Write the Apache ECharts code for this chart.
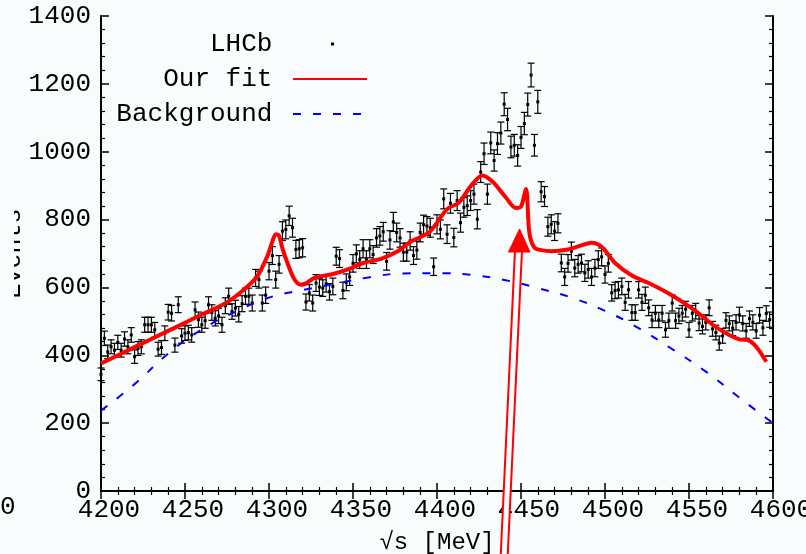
<!DOCTYPE html>
<html>
<head>
<meta charset="utf-8">
<script src="https://cdn.jsdelivr.net/npm/echarts@6/dist/echarts.min.js"></script>
<style>
  html, body { margin: 0; padding: 0; background: #f8fcfd; }
  #main { width: 806px; height: 554px; }
</style>
</head>
<body>
<div id="main"></div>
<script>
// histogram: 2 MeV bins starting at 4200 MeV
var binStart = 4200;
var binWidth = 2;
var counts = [
  344, 450, 410, 425, 415, 438, 415, 448, 425, 460,
  396, 420, 425, 490, 490, 490, 475, 418, 423, 465,
  527, 524, 430, 549, 457, 465, 467, 460, 534, 505,
  490, 502, 549, 526, 509, 516, 490, 546, 574, 529,
  539, 521, 552, 574, 574, 554, 628, 623, 554, 577,
  648, 694, 623, 668, 766, 771, 811, 776, 712, 714,
  717, 557, 584, 554, 613, 601, 598, 611, 587, 603,
  692, 685, 591, 615, 631, 671, 699, 682, 714, 682,
  714, 697, 746, 752, 764, 677, 740, 793, 762, 746,
  704, 704, 737, 694, 710, 762, 785, 781, 776, 661,
  786, 771, 861, 757, 848, 747, 856, 791, 836, 841,
  856, 875, 801, 940, 994, 875, 1026, 974, 1024, 1055,
  1140, 1095, 1014, 1019, 989, 1042, 1083, 1139, 1226, 1019,
  1147, 882, 868, 779, 786, 766, 789, 672, 631, 671,
  707, 657, 668, 672, 643, 653, 631, 657, 682, 690,
  638, 671, 584, 591, 593, 603, 556, 593, 526, 526,
  593, 556, 577, 540, 504, 524, 504, 524, 475, 502,
  554, 502, 516, 524, 536, 475, 524, 530, 495, 485,
  497, 540, 478, 467, 436, 457, 503, 494, 480, 497,
  519, 494, 472, 508, 497, 472, 518, 481, 523, 505
];

var fitMass = [4200, 4220, 4240, 4260, 4275, 4285, 4293, 4299, 4302, 4304,
  4306, 4308, 4311, 4315, 4319, 4322, 4327, 4337, 4347, 4356,
  4367, 4376, 4385, 4390, 4396, 4406, 4413, 4420, 4427, 4433,
  4441, 4447, 4450, 4453, 4455, 4458, 4462, 4468, 4478, 4486,
  4492, 4498, 4506, 4516, 4526, 4539, 4553, 4567, 4580, 4585,
  4590, 4596];
var fitValue = [376, 424, 472, 520, 556, 593, 633, 692, 735, 757,
  752, 715, 672, 625, 608, 612, 628, 638, 653, 672,
  685, 705, 737, 748, 765, 831, 850, 898, 930, 912,
  865, 834, 838, 890, 760, 717, 710, 707, 712, 724,
  732, 720, 672, 635, 613, 579, 534, 480, 447, 445,
  425, 381];

var bgMass = [4200, 4220, 4240, 4260, 4280, 4300, 4320, 4340, 4360, 4380, 4400,
  4420, 4440, 4460, 4480, 4500, 4520, 4540, 4560, 4580, 4600];
var bgValue = [237, 315, 405, 476, 528, 570, 592, 611, 630, 641, 642,
  637, 622, 598, 570, 531, 480, 418, 352, 275, 200];

var xTicks = { min: 4200, max: 4600, step: 50 };
var yTicks = { min: 0, max: 1400, step: 200 };

var monoFont = 'Liberation Mono';
var pageBg = '#f8fcfd';

var pointData = [];
for (var i = 0; i < counts.length; i++) {
  pointData.push([binStart + binWidth * i, counts[i], Math.sqrt(counts[i])]);
}
var fitData = fitMass.map(function (m, k) { return [m, fitValue[k]]; });
var bgData = bgMass.map(function (m, k) { return [m, bgValue[k]]; });

function renderErrorBar(params, api) {
  var x = api.value(0), y = api.value(1), e = api.value(2);
  var top = api.coord([x, y + e]);
  var bot = api.coord([x, y - e]);
  var mid = api.coord([x, y]);
  var cap = 3.5;
  var st = { stroke: '#000', lineWidth: 1.2 };
  return {
    type: 'group',
    children: [
      { type: 'line', shape: { x1: top[0], y1: top[1], x2: bot[0], y2: bot[1] }, style: st },
      { type: 'line', shape: { x1: top[0] - cap, y1: top[1], x2: top[0] + cap, y2: top[1] }, style: st },
      { type: 'line', shape: { x1: bot[0] - cap, y1: bot[1], x2: bot[0] + cap, y2: bot[1] }, style: st },
      { type: 'rect', shape: { x: mid[0] - 1.5, y: mid[1] - 1.5, width: 3, height: 3 }, style: { fill: '#000' } }
    ]
  };
}

var myChart = echarts.init(document.getElementById('main'));

var tickStyle = { show: true, inside: true, length: 8, lineStyle: { color: '#000', width: 1.5 } };
var minorStyle = { show: true, length: 4, lineStyle: { color: '#000', width: 1.2 } };
var plainNumber = function (v) { return String(v); };
var noSymbol = { color: 'rgba(0,0,0,0)', borderWidth: 0 };

var option = {
  animation: false,
  backgroundColor: pageBg,
  grid: { left: 101, right: 33, top: 16, bottom: 63, outerBoundsMode: 'none', containLabel: false },
  legend: {
    orient: 'vertical',
    align: 'right',
    right: 433,
    top: 26,
    itemWidth: 74,
    itemHeight: 14,
    itemGap: 9,
    formatter: function (name) { return name + ' '; },
    textStyle: { fontFamily: monoFont, fontSize: 26, color: '#000' },
    data: [
      { name: 'LHCb', icon: 'path://M0,0h0.01v0.01z M38,5.5h3v3h-3z M74,14h-0.01v-0.01z' },
      { name: 'Our fit', itemStyle: noSymbol },
      { name: 'Background', itemStyle: noSymbol }
    ]
  },
  xAxis: [{
    type: 'value',
    min: xTicks.min, max: xTicks.max, interval: xTicks.step,
    name: '√s [MeV]',
    nameLocation: 'middle',
    nameGap: 40,
    nameMoveOverlap: false,
    nameTextStyle: { fontFamily: monoFont, fontSize: 24, color: '#000' },
    axisLine: { lineStyle: { color: '#000', width: 2 } },
    axisTick: tickStyle,
    minorTick: minorStyle,
    splitLine: { show: false },
    axisLabel: { fontFamily: monoFont, fontSize: 26, color: '#000', margin: 6, padding: [0, 0, 0, 16], formatter: plainNumber }
  }, {
    type: 'value', position: 'top',
    min: xTicks.min, max: xTicks.max, interval: xTicks.step,
    axisLine: { lineStyle: { color: '#000', width: 2 } },
    axisTick: tickStyle,
    minorTick: minorStyle,
    splitLine: { show: false },
    axisLabel: { show: false }
  }],
  yAxis: [{
    type: 'value',
    min: yTicks.min, max: yTicks.max, interval: yTicks.step,
    name: 'Events',
    nameLocation: 'middle',
    nameRotate: 90,
    nameGap: 75,
    nameMoveOverlap: false,
    nameTextStyle: { fontFamily: monoFont, fontSize: 25, color: '#000' },
    axisLine: { show: true, lineStyle: { color: '#000', width: 2 } },
    axisTick: tickStyle,
    minorTick: minorStyle,
    splitLine: { show: false },
    axisLabel: { fontFamily: monoFont, fontSize: 26, color: '#000', margin: 10, formatter: plainNumber }
  }, {
    type: 'value', position: 'right',
    min: yTicks.min, max: yTicks.max, interval: yTicks.step,
    axisLine: { show: true, lineStyle: { color: '#000', width: 2 } },
    axisTick: tickStyle,
    minorTick: minorStyle,
    splitLine: { show: false },
    axisLabel: { show: false }
  }],
  series: [
    {
      name: 'LHCb',
      type: 'custom',
      renderItem: renderErrorBar,
      itemStyle: { color: '#000' },
      encode: { x: 0, y: 1 },
      data: pointData,
      z: 2
    },
    {
      name: 'Background',
      type: 'line',
      symbol: 'none',
      smooth: true,
      data: bgData,
      lineStyle: { color: '#0000ff', width: 2, type: [8, 12] },
      itemStyle: { color: '#0000ff' },
      z: 3
    },
    {
      name: 'Our fit',
      type: 'line',
      symbol: 'none',
      smooth: 0.3,
      data: fitData,
      lineStyle: { color: '#ff0000', width: 4 },
      itemStyle: { color: '#ff0000' },
      z: 4
    }
  ],
  graphic: [
    // the source picture is cropped through the y-axis title
    { type: 'rect', z: 100, shape: { x: 0, y: 180, width: 14, height: 140 }, style: { fill: pageBg } },
    // cut-off label from the neighbouring panel
    { type: 'text', left: 0, top: 494, style: { text: '0', font: '26px "Liberation Mono"', fill: '#000' } },
    // red arrow annotation
    {
      type: 'polygon', z: 100,
      shape: { points: [[500.5, 560], [507.5, 560], [522, 250], [515, 250]] },
      style: { fill: '#ffffff', stroke: '#ff0000', lineWidth: 2 }
    },
    {
      type: 'polygon', z: 101,
      shape: { points: [[519.5, 229], [530, 252], [508.5, 252]] },
      style: { fill: '#ff0000', stroke: '#ff0000', lineWidth: 1 }
    }
  ]
};
option && myChart.setOption(option);
</script>
</body>
</html>
